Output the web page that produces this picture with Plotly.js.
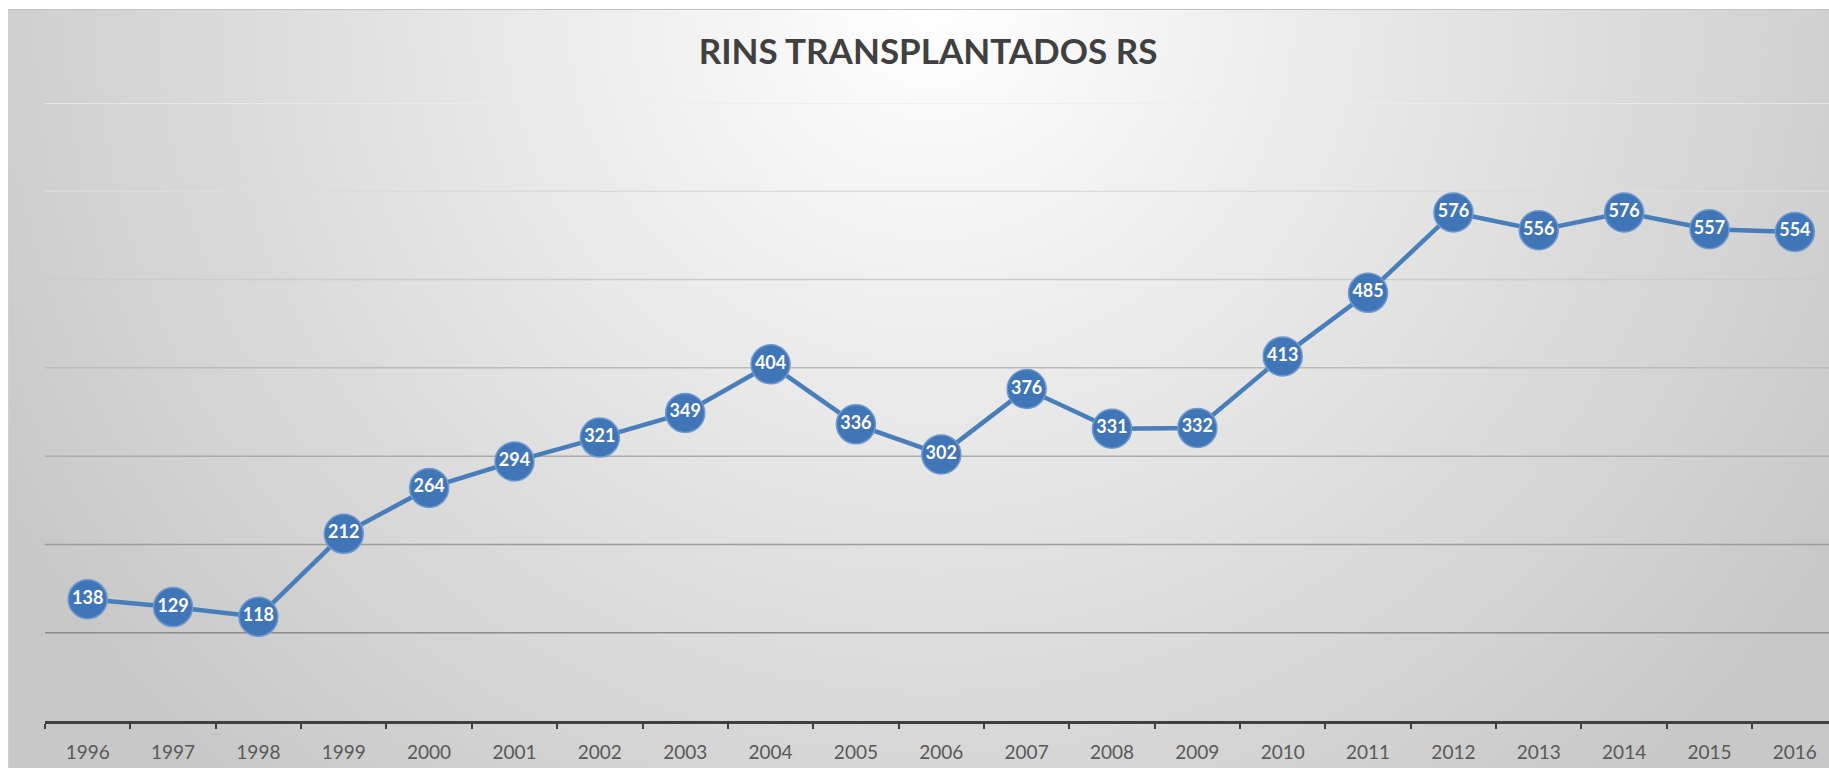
<!DOCTYPE html>
<html>
<head>
<meta charset="utf-8">
<script src="https://cdn.plot.ly/plotly-3.0.1.min.js"></script>
<style>
  html, body { margin: 0; padding: 0; background: #ffffff; width: 1829px; height: 768px; overflow: hidden; }
  #bg {
    position: absolute; left: 8px; top: 9px; width: 1821px; height: 759px;
    border-top: 1px solid #c4c4c4; border-left: 1px solid #d0d0d0;
    background: radial-gradient(ellipse 1060px 1020px at 922px 0px, #ffffff 0%, #f5f5f5 18%, #c8c8c8 100%);
  }
  #chart { position: absolute; left: 0; top: 0; width: 1829px; height: 768px; }
</style>
</head>
<body>
<div id="bg"></div>
<div id="chart"></div>
<script>
const years = ["1996","1997","1998","1999","2000","2001","2002","2003","2004","2005","2006",
               "2007","2008","2009","2010","2011","2012","2013","2014","2015","2016"];
const kidneys = [138,129,118,212,264,294,321,349,404,336,302,376,331,332,413,485,576,556,576,557,554];
const gridLevels = [100,200,300,400,500,600,700];
const chartTitle = "RINS TRANSPLANTADOS RS";

function gridColor(v) {
  const c = Math.round(140 + (v - 100) / 600 * (236 - 140));
  return "rgb(" + c + "," + c + "," + c + ")";
}

const shapes = gridLevels.map(v => ({
  type: "line", xref: "paper", yref: "y", x0: 0, x1: 1, y0: v, y1: v,
  line: { color: gridColor(v), width: 1.5 }, layer: "below"
}));

const trace = {
  type: "scatter",
  mode: "lines+markers+text",
  x: years,
  y: kidneys,
  text: kidneys.map(String),
  textposition: "middle center",
  textfont: { family: "Lato, 'Noto Sans', sans-serif", size: 18, color: "#ffffff", weight: "bold" },
  line: { color: "#4a7ebb", width: 4.5 },
  marker: { size: 39, color: "#4075b8", line: { color: "#6e99cf", width: 1.5 } },
  hoverinfo: "x+y",
  cliponaxis: false
};

const layout = {
  width: 1829, height: 768,
  margin: { l: 45, r: 0, t: 103, b: 47, pad: 0 },
  paper_bgcolor: "rgba(0,0,0,0)",
  plot_bgcolor: "rgba(0,0,0,0)",
  showlegend: false,
  title: {
    text: "<b>" + chartTitle + "</b>",
    font: { family: "Lato, 'Noto Sans', sans-serif", size: 35, color: "#404040" },
    x: 928 / 1829, xref: "container", xanchor: "center",
    y: 1 - 52 / 768, yref: "container", yanchor: "middle"
  },
  xaxis: {
    type: "category",
    range: [-0.5, 20.4],
    showgrid: false, zeroline: false,
    showline: true, linecolor: "#404040", linewidth: 2.5,
    ticks: "outside", ticklen: 5, tickwidth: 2, tickcolor: "#404040",
    tickson: "boundaries",
    ticklabelstandoff: 13,
    tickfont: { family: "Lato, 'Noto Sans', sans-serif", size: 19, color: "#595959" },
    fixedrange: true
  },
  yaxis: {
    range: [0, 700],
    showgrid: false, zeroline: false, showline: false,
    showticklabels: false, ticks: "",
    fixedrange: true
  },
  shapes: shapes
};

Plotly.newPlot("chart", [trace], layout, { displayModeBar: false, staticPlot: true });
</script>
</body>
</html>
